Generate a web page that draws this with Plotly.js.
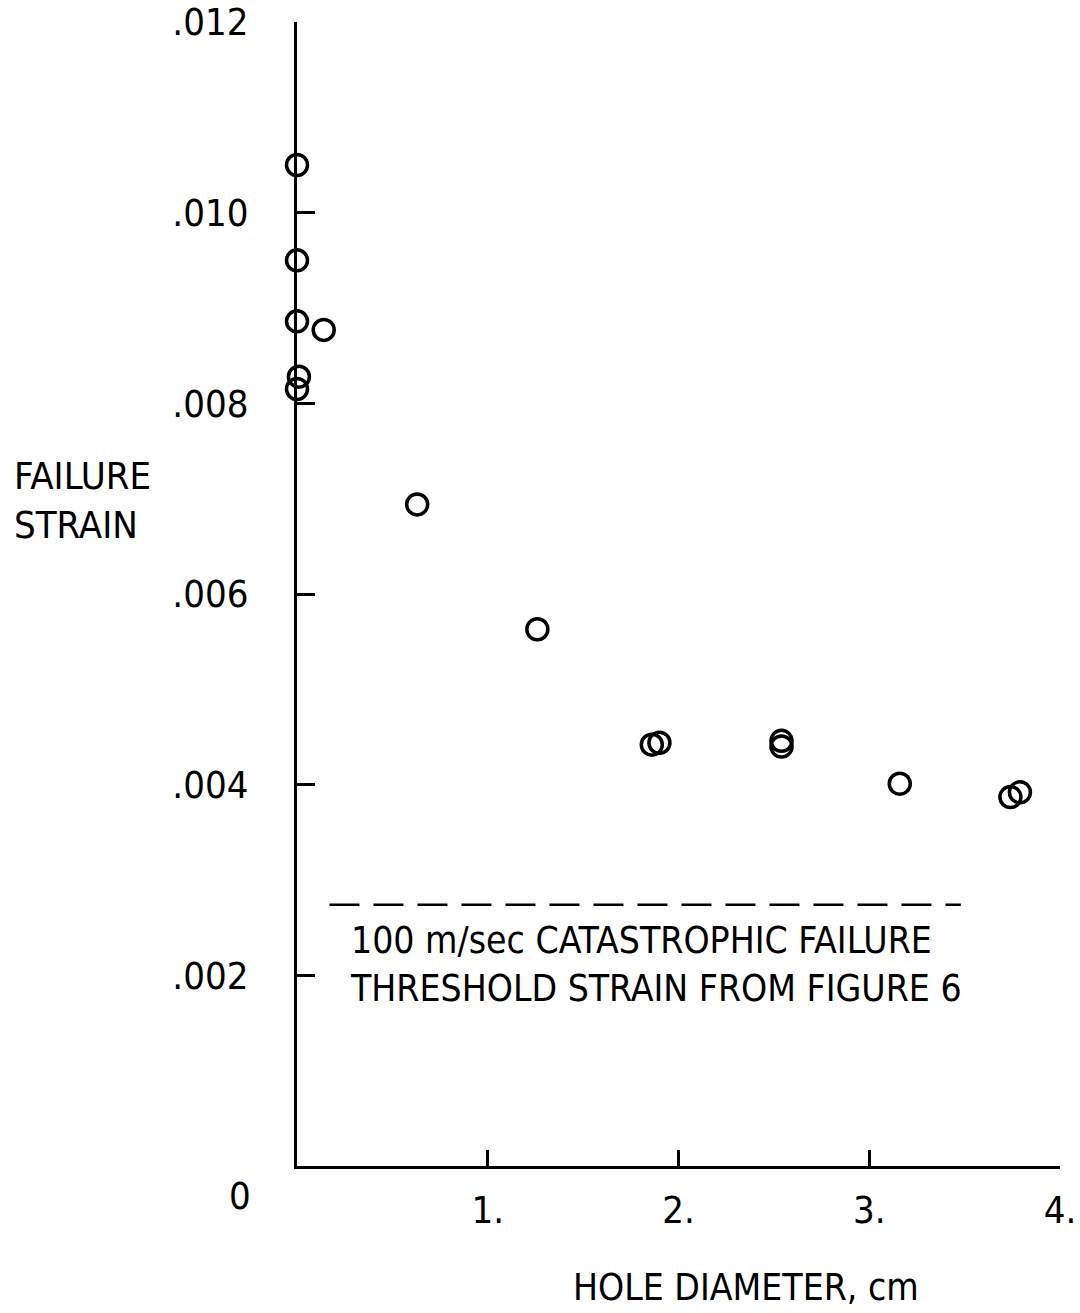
<!DOCTYPE html>
<html>
<head>
<meta charset="utf-8">
<script src="https://cdn.plot.ly/plotly-3.0.1.min.js"></script>
<style>html,body{margin:0;padding:0;background:#fff;}#chart{width:1080px;height:1313px;}</style>
</head>
<body>
<div id="chart"></div>
<script>
// Data
const holeDiameter = [0, 0, 0, 0.01, 0, 0.14, 0.63, 1.26, 1.86, 1.90, 2.54, 2.54, 3.16, 3.74, 3.79];
const failureStrain = [0.0105, 0.0095, 0.00886, 0.00828, 0.00815, 0.00877, 0.00694, 0.00563, 0.00442, 0.00444, 0.00446, 0.00440, 0.00401, 0.00387, 0.00392];
const thresholdX = [0.17, 3.48];
const thresholdY = [0.00274, 0.00274];
const yTickVals = [0.002, 0.004, 0.006, 0.008, 0.010, 0.012];
const yTickText = ['.002', '.004', '.006', '.008', '.010', '.012'];
const xTickVals = [1, 2, 3, 4];
const xTickText = ['1.', '2.', '3.', '4.'];
const thresholdLabel = '100 m/sec CATASTROPHIC FAILURE<br>THRESHOLD STRAIN FROM FIGURE 6';

// pick a condensed font that is installed
function hasFont(name) {
  const c = document.createElement('canvas').getContext('2d');
  const s = 'FAILURE STRAIN 0123456789 mmmwwwlli';
  c.font = '40px monospace';
  const w0 = c.measureText(s).width;
  c.font = '40px "' + name + '", monospace';
  return c.measureText(s).width !== w0;
}
const narrow = hasFont('Liberation Sans Narrow');
const FONT = narrow ? '"Liberation Sans Narrow", sans-serif' : '"DejaVu Sans Condensed", "DejaVu Sans", sans-serif';
const S = narrow
  ? {tick: 41, note: 41, ylab: 40, xlab: 40}
  : {tick: 38, note: 37, ylab: 38, xlab: 37};

const traces = [
  {
    x: thresholdX, y: thresholdY, type: 'scatter', mode: 'lines',
    line: {color: '#000', width: 2.5, dash: '30px,14px'},
    hoverinfo: 'skip', showlegend: false
  },
  {
    x: holeDiameter, y: failureStrain, type: 'scatter', mode: 'markers',
    marker: {symbol: 'circle-open', size: 21, color: '#000', line: {width: 3.5, color: '#000'}},
    cliponaxis: false, showlegend: false
  }
];

const layout = {
  width: 1080, height: 1313,
  margin: {l: 297, r: 20, t: 22, b: 147},
  paper_bgcolor: '#fff', plot_bgcolor: '#fff',
  font: {family: FONT, color: '#000', size: S.tick},
  showlegend: false,
  xaxis: {
    range: [0, 4], showgrid: false, zeroline: false,
    showline: true, linecolor: '#000', linewidth: 3,
    tickvals: xTickVals, ticktext: xTickText,
    ticks: 'inside', ticklen: 16, tickwidth: 3, tickcolor: '#000',
    ticklabelstandoff: 8,
    tickfont: {family: FONT, size: S.tick, color: '#000'}
  },
  yaxis: {
    range: [0, 0.012], showgrid: false, zeroline: false,
    showline: true, linecolor: '#000', linewidth: 3,
    tickvals: yTickVals, ticktext: yTickText,
    ticks: 'inside', ticklen: 18, tickwidth: 3, tickcolor: '#000',
    ticklabelstandoff: 38,
    tickfont: {family: FONT, size: S.tick, color: '#000'}
  },
  annotations: [
    {xref: 'x', yref: 'y', x: 0, y: 0, xshift: -57, yshift: -30, text: '0', showarrow: false,
     font: {family: FONT, size: S.tick, color: '#000'}},
    {xref: 'paper', yref: 'paper', x: -0.3735, y: 0.582, xanchor: 'left', yanchor: 'middle', align: 'left',
     text: 'FAILURE<br>STRAIN', showarrow: false, font: {family: FONT, size: S.ylab, color: '#000'}},
    {xref: 'paper', yref: 'paper', x: 0.589, y: -0.1066, xanchor: 'center', yanchor: 'middle',
     text: 'HOLE DIAMETER, cm', showarrow: false, font: {family: FONT, size: S.xlab, color: '#000'}},
    {xref: 'x', yref: 'y', x: 0.265, y: 0.00211, xanchor: 'left', yanchor: 'middle', align: 'left',
     text: thresholdLabel, showarrow: false, font: {family: FONT, size: S.note, color: '#000'}}
  ]
};

Plotly.newPlot('chart', traces, layout, {staticPlot: true, displayModeBar: false});
</script>
</body>
</html>
